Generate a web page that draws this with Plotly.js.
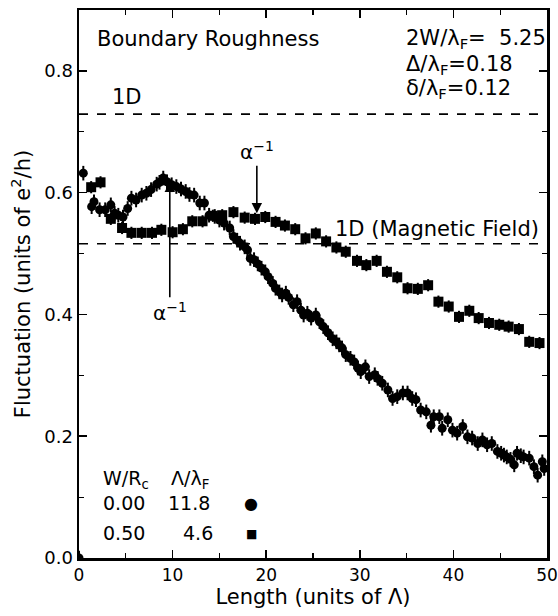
<!DOCTYPE html>
<html>
<head>
<meta charset="utf-8">
<script src="https://cdn.plot.ly/plotly-3.0.1.min.js"></script>
<style>html,body{margin:0;padding:0;background:#fff;}#chart{width:558px;height:616px;}</style>
</head>
<body>
<div id="chart"></div>
<script>
// W/Rc = 0.00, Λ/λF = 11.8 (filled circles)
var circleX = [0, 0.46, 1.35, 1.6, 2.2, 2.8, 3.4, 3.8, 4.2, 4.7, 5.2, 5.6, 6.1, 6.7, 7.2, 7.7, 8.3, 8.6, 9.0, 9.4, 9.9,
  10.4, 10.9, 11.4, 11.8, 12.3, 12.9, 13.4, 13.9, 14.5, 15.0, 15.5, 16.1, 16.5, 16.9, 17.2, 17.7, 18.0, 18.3, 18.7,
  19.1, 19.5, 19.9, 20.2, 20.7, 21.0, 21.4, 21.7, 22.1, 22.4, 22.9, 23.3, 23.7, 24.0, 24.4, 24.8, 25.3, 25.7, 26.1,
  26.6, 27.1, 27.5, 27.8, 28.1, 28.5, 29.0, 29.4, 29.8, 30.1, 30.6, 31.0, 31.6, 31.9, 32.4, 33.0, 33.5, 34.0, 34.6,
  35.1, 35.6, 36.0, 36.5, 37.1, 37.6, 37.9, 38.5, 38.8, 39.4, 39.9, 40.4, 41.0, 41.5, 42.0, 42.6, 43.1, 43.6, 44.1,
  44.7, 45.1, 45.4, 45.7, 46.1, 46.5, 46.8, 47.2, 47.5, 48.1, 48.6, 49.0, 49.5, 49.7];
var circleY = [0, 0.632, 0.577, 0.585, 0.572, 0.572, 0.580, 0.566, 0.563, 0.560, 0.574, 0.591, 0.588, 0.596, 0.599, 0.605, 0.614, 0.617, 0.624, 0.618, 0.613,
  0.610, 0.606, 0.602, 0.597, 0.596, 0.583, 0.583, 0.563, 0.561, 0.555, 0.550, 0.542, 0.528, 0.522, 0.517, 0.511, 0.506, 0.492, 0.490,
  0.483, 0.476, 0.470, 0.462, 0.451, 0.443, 0.437, 0.432, 0.435, 0.428, 0.416, 0.421, 0.407, 0.399, 0.402, 0.394, 0.399, 0.388, 0.380,
  0.370, 0.360, 0.355, 0.350, 0.345, 0.334, 0.328, 0.322, 0.312, 0.306, 0.314, 0.298, 0.301, 0.295, 0.287, 0.276, 0.262, 0.265, 0.271,
  0.271, 0.262, 0.260, 0.243, 0.240, 0.218, 0.232, 0.232, 0.213, 0.227, 0.210, 0.205, 0.216, 0.199, 0.197, 0.188, 0.194, 0.186, 0.188,
  0.175, 0.172, 0.169, 0.166, 0.162, 0.153, 0.172, 0.168, 0.166, 0.164, 0.150, 0.136, 0.158, 0.147];

// W/Rc = 0.50, Λ/λF = 4.6 (filled squares)
var squareX = [1.3, 2.3, 3.4, 4.6, 5.6, 6.7, 7.8, 8.8, 10.0, 11.1, 12.1, 13.2, 14.3, 15.3, 16.5, 17.7, 18.8, 19.9,
  21.0, 22.0, 23.1, 24.2, 25.3, 26.4, 27.5, 28.5, 29.7, 30.7, 31.8, 32.9, 34.0, 35.1, 36.2, 37.3, 38.4, 39.5,
  40.6, 41.7, 42.7, 43.8, 44.9, 45.9, 47.0, 48.1, 49.2];
var squareY = [0.609, 0.617, 0.557, 0.542, 0.534, 0.534, 0.534, 0.539, 0.535, 0.540, 0.553, 0.553, 0.562, 0.563, 0.568, 0.559, 0.557, 0.560,
  0.552, 0.546, 0.540, 0.525, 0.533, 0.520, 0.510, 0.503, 0.488, 0.481, 0.488, 0.470, 0.461, 0.443, 0.442, 0.448, 0.421, 0.413,
  0.396, 0.406, 0.394, 0.386, 0.383, 0.380, 0.376, 0.355, 0.353];

var oneDLevels = [0.729, 0.516];
var xTicks = [0, 10, 20, 30, 40, 50];
var yTicks = [0.0, 0.2, 0.4, 0.6, 0.8];

var FONT = 'DejaVu Sans, Arial, sans-serif';

var traces = [
  {x: circleX, y: circleY, type: 'scatter', mode: 'markers', showlegend: false, cliponaxis: true,
   marker: {symbol: 'circle', size: 9, color: '#000'},
   error_y: {type: 'constant', value: 0.012, color: '#000', thickness: 2, width: 0}},
  {x: squareX, y: squareY, type: 'scatter', mode: 'markers', showlegend: false, cliponaxis: true,
   marker: {symbol: 'square', size: 10, color: '#000'},
   error_y: {type: 'constant', value: 0.010, color: '#000', thickness: 2, width: 0}}
];

var shapes = oneDLevels.map(function (v) {
  return {type: 'line', xref: 'x', yref: 'y', x0: 0, x1: 50, y0: v, y1: v,
          line: {color: '#000', width: 1.6, dash: 'dash'}};
});

function txt(text, x, y, anchor, size) {
  return {text: text, x: x, y: y, xref: 'x', yref: 'y', showarrow: false,
          xanchor: anchor || 'left', yanchor: 'middle', borderpad: 0,
          font: {family: FONT, size: size || 21, color: '#000'}};
}

var annotations = [
  txt('Boundary Roughness', 1.8, 0.853),
  txt('2W/λ<sub>F</sub>=\u00a0\u00a05.25', 34.8, 0.853),
  txt('Δ/λ<sub>F</sub>=0.18', 34.8, 0.810),
  txt('δ/λ<sub>F</sub>=0.12', 34.8, 0.770),
  txt('1D', 3.4, 0.757),
  txt('1D (Magnetic Field)', 49.2, 0.541, 'right'),
  txt('W/R<sub>c</sub>', 2.5, 0.129, 'left', 19),
  txt('Λ/λ<sub>F</sub>', 9.7, 0.129, 'left', 19),
  txt('0.00', 2.5, 0.090, 'left', 19),
  txt('11.8', 9.4, 0.090, 'left', 19),
  txt('0.50', 2.5, 0.041, 'left', 19),
  txt('4.6', 11.0, 0.041, 'left', 19),
  txt('●', 18.4, 0.090, 'center', 16),
  txt('■', 18.4, 0.040, 'center', 12),
  {text: 'α<sup>−1</sup>', x: 19.0, y: 0.566, xref: 'x', yref: 'y', showarrow: true,
   ax: 0, ay: -62, arrowhead: 2, arrowsize: 1.3, arrowwidth: 1.6, arrowcolor: '#000', standoff: 0,
   font: {family: FONT, size: 20, color: '#000'}},
  {text: 'α<sup>−1</sup>', x: 9.7, y: 0.618, xref: 'x', yref: 'y', showarrow: true,
   ax: 0, ay: 130, arrowhead: 2, arrowsize: 1.3, arrowwidth: 1.6, arrowcolor: '#000', standoff: 0,
   font: {family: FONT, size: 20, color: '#000'}}
];

var layout = {
  width: 558, height: 616,
  margin: {l: 79, r: 11, t: 10, b: 58},
  paper_bgcolor: '#fff', plot_bgcolor: '#fff',
  showlegend: false,
  font: {family: FONT, size: 17, color: '#000'},
  xaxis: {
    range: [0, 50], tickvals: xTicks, ticktext: xTicks.map(String),
    ticks: 'inside', ticklen: 8, tickwidth: 1.5, tickcolor: '#000',
    minor: {tickvals: [5, 15, 25, 35, 45], ticks: 'inside', ticklen: 5, tickwidth: 1.2, tickcolor: '#000'},
    showline: true, linewidth: 2.5, linecolor: '#000', mirror: 'ticks',
    showgrid: false, zeroline: false, automargin: false, ticklabeloverflow: 'allow',
    tickfont: {family: FONT, size: 17, color: '#000'},
    title: {text: 'Length (units of Λ)', font: {family: FONT, size: 21, color: '#000'}, standoff: 6}
  },
  yaxis: {
    range: [0, 0.9], tickvals: yTicks, ticktext: yTicks.map(function (v) { return v.toFixed(1); }),
    ticks: 'inside', ticklen: 8, tickwidth: 1.5, tickcolor: '#000',
    minor: {tickvals: [0.1, 0.3, 0.5, 0.7], ticks: 'inside', ticklen: 5, tickwidth: 1.2, tickcolor: '#000'},
    showline: true, linewidth: 2.5, linecolor: '#000', mirror: 'ticks',
    showgrid: false, zeroline: false, automargin: false, ticklabeloverflow: 'allow',
    tickfont: {family: FONT, size: 18, color: '#000'},
    title: {text: 'Fluctuation (units of e<sup>2</sup>/h)', font: {family: FONT, size: 21, color: '#000'}, standoff: 8}
  },
  shapes: shapes,
  annotations: annotations
};

Plotly.newPlot('chart', traces, layout, {staticPlot: true, displayModeBar: false});
</script>
</body>
</html>
